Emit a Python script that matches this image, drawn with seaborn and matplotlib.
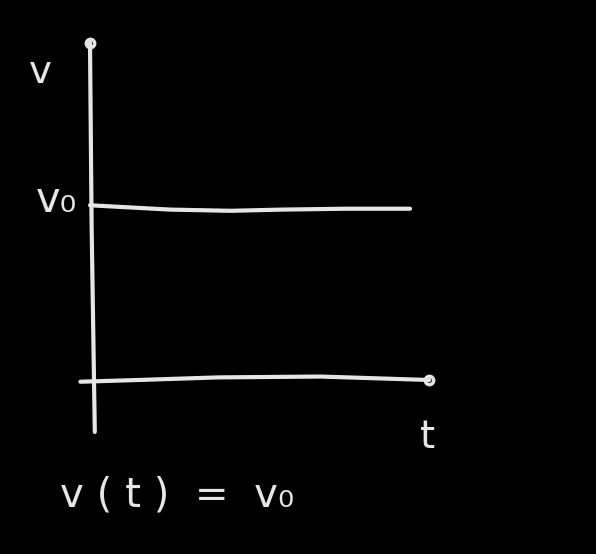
import numpy as np
import pandas as pd
import matplotlib
matplotlib.use("Agg")
import matplotlib.pyplot as plt
import seaborn as sns

# data (t in arbitrary units, v in units of v0)
t_line = [0.0, 1.0, 2.5, 4.4, 6.0, 8.0, 10.0]
v_line = [1.01, 1.0, 0.985, 0.978, 0.985, 0.99, 0.99]

# hand drawn axes
t_axis_t = [-0.3, 1.5, 4.0, 7.2, 10.6]
t_axis_v = [-0.01, 0.0, 0.015, 0.02, 0.0]
v_axis_t = [0.15, 0.05, 0.0]
v_axis_v = [-0.30, 0.9, 1.95]

chalk = "#e6e6e6"

sns.set_style("dark", {"axes.facecolor": "black", "figure.facecolor": "black"})
plt.rcParams["font.family"] = ["DejaVu Sans"]

fig = plt.figure(figsize=(5.96, 5.54), dpi=100)
ax = fig.add_axes([0, 0, 1, 1])
ax.set_facecolor("black")

df = pd.DataFrame({"t": t_line, "v": v_line})
sns.lineplot(data=df, x="t", y="v", ax=ax, color=chalk, linewidth=3)

ax.plot(t_axis_t, t_axis_v, color=chalk, lw=3, solid_capstyle="round")
ax.plot(v_axis_t, v_axis_v, color=chalk, lw=3, solid_capstyle="round")
# little loop arrow heads
ax.plot([t_axis_t[-1]], [t_axis_v[-1]], "o", ms=6, mfc="none", mec=chalk, mew=2.5)
ax.plot([v_axis_t[-1]], [v_axis_v[-1]], "o", ms=6, mfc="none", mec=chalk, mew=2.5)

# labels
ax.text(-1.55, 1.78, "v", color=chalk, fontsize=28, ha="center", va="center")
ax.text(-1.05, 1.04, "v₀", color=chalk, fontsize=30, ha="center", va="center")
ax.text(10.55, -0.33, "t", color=chalk, fontsize=28, ha="center", va="center")
ax.text(-0.95, -0.67, "v ( t )  =  v₀", color=chalk, fontsize=29, ha="left", va="center")

ax.set_xlim(-90 / 32, 506 / 32)
ax.set_ylim(-174 / 173, 380 / 173)
ax.set_axis_off()

fig.savefig("out.png", dpi=100, facecolor="black")
